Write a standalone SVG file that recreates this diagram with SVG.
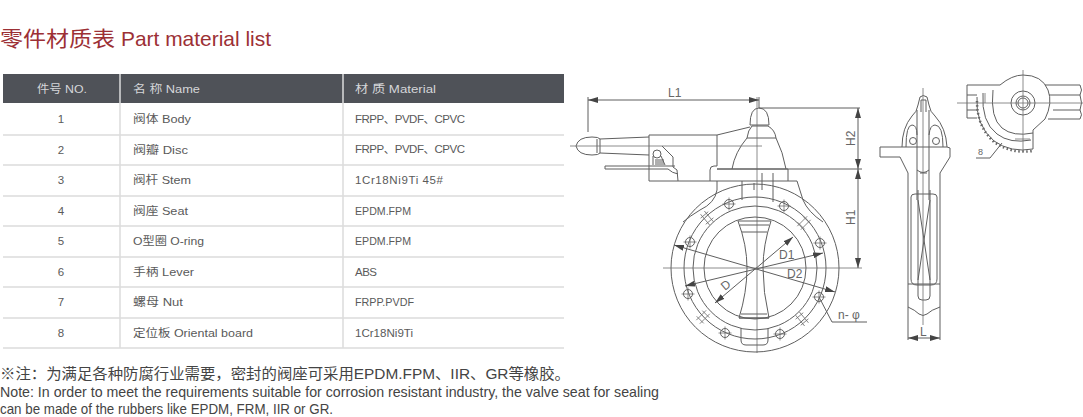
<svg xmlns="http://www.w3.org/2000/svg" width="1083" height="417" viewBox="0 0 1083 417">
<style>
text{font-family:"Liberation Sans","Noto Sans CJK SC",sans-serif;fill:#5a5a5a}
.title{font-size:21px;fill:#9c3035}
.hd{font-size:11.500px;fill:#d5d6d8}
.td{font-size:11.500px}
.note{font-size:15px;fill:#444}
.rule{stroke:#dcdcdc;stroke-width:1.500;fill:none}
.l{fill:none;stroke:#5f5f5f;stroke-width:1}
.c{fill:none;stroke:#707070;stroke-width:.8}
.t{fill:none;stroke:#666;stroke-width:2.500;stroke-dasharray:1.500 2.500}
.dim{font-size:12px;fill:#666}
</style>
<defs>
<marker id="ah" viewBox="0 0 10 6" refX="10" refY="3" markerWidth="10" markerHeight="6" markerUnits="userSpaceOnUse" orient="auto-start-reverse"><path d="M0 0L10 3L0 6Z" fill="#444"/></marker>
<g id="bolt"><circle r="4.500" class="l"/><path d="M-6.500 0H6.500M0-6.500V6.500" class="c"/></g>
<g id="slot"><path d="M-7-2.500H7M-7 2.500H7M-4-5V5M4-5V5" class="c"/></g>
</defs>
<rect width="1083" height="417" fill="#fff"/>
<g id="title">
<text class="title" x="0" y="46" textLength="115" lengthAdjust="spacingAndGlyphs">零件材质表</text>
<text class="title" x="121" y="46" textLength="150" lengthAdjust="spacingAndGlyphs">Part material list</text>
</g>
<g id="table">
<rect x="3" y="74" width="561" height="29" fill="#4f5258"/>
<path class="rule" d="M120 74V348M343 74V348M3 135H564M3 165H564M3 196H564M3 226H564M3 257H564M3 287H564M3 318H564M3 348H564"/>
<text class="hd" x="37" y="93" textLength="50" lengthAdjust="spacingAndGlyphs">件号 NO.</text>
<text class="hd" x="133" y="93" textLength="67" lengthAdjust="spacingAndGlyphs">名 称 Name</text>
<text class="hd" x="355" y="93" textLength="81" lengthAdjust="spacingAndGlyphs">材 质 Material</text>
<g text-anchor="middle">
<text class="td" x="61" y="123">1</text><text class="td" x="61" y="154">2</text><text class="td" x="61" y="184">3</text><text class="td" x="61" y="215">4</text><text class="td" x="61" y="245">5</text><text class="td" x="61" y="276">6</text><text class="td" x="61" y="306">7</text><text class="td" x="61" y="337">8</text>
</g>
<text class="td" x="133" y="123" textLength="58" lengthAdjust="spacingAndGlyphs">阀体 Body</text>
<text class="td" x="133" y="154" textLength="55" lengthAdjust="spacingAndGlyphs">阀瓣 Disc</text>
<text class="td" x="133" y="184" textLength="58" lengthAdjust="spacingAndGlyphs">阀杆 Stem</text>
<text class="td" x="133" y="215" textLength="55" lengthAdjust="spacingAndGlyphs">阀座 Seat</text>
<text class="td" x="133" y="245" textLength="71" lengthAdjust="spacingAndGlyphs">O型圈 O-ring</text>
<text class="td" x="133" y="276" textLength="61" lengthAdjust="spacingAndGlyphs">手柄 Lever</text>
<text class="td" x="133" y="306" textLength="50" lengthAdjust="spacingAndGlyphs">螺母 Nut</text>
<text class="td" x="133" y="337" textLength="120" lengthAdjust="spacingAndGlyphs">定位板 Oriental board</text>
<text class="td" x="355" y="123" textLength="110">FRPP、PVDF、CPVC</text>
<text class="td" x="355" y="153" textLength="110">FRPP、PVDF、CPVC</text>
<text class="td" x="355" y="184" textLength="88">1Cr18Ni9Ti 45#</text>
<text class="td" x="355" y="215" textLength="56" lengthAdjust="spacingAndGlyphs">EPDM.FPM</text>
<text class="td" x="355" y="245" textLength="56" lengthAdjust="spacingAndGlyphs">EPDM.FPM</text>
<text class="td" x="355" y="276" textLength="22">ABS</text>
<text class="td" x="355" y="306" textLength="59" lengthAdjust="spacingAndGlyphs">FRPP.PVDF</text>
<text class="td" x="355" y="337" textLength="58" lengthAdjust="spacingAndGlyphs">1Cr18Ni9Ti</text>
</g>
<g id="notes">
<text class="note" x="0" y="379" textLength="570" lengthAdjust="spacingAndGlyphs">※注：为满足各种防腐行业需要，密封的阀座可采用EPDM.FPM、IIR、GR等橡胶。</text>
<text class="note" x="0" y="397" textLength="659" lengthAdjust="spacingAndGlyphs">Note: In order to meet the requirements suitable for corrosion resistant industry, the valve seat for sealing</text>
<text class="note" x="0" y="414" textLength="333" lengthAdjust="spacingAndGlyphs">can be made of the rubbers like EPDM, FRM, IIR or GR.</text>
</g>
<g id="front-view">
<path class="l" d="M649 135H717L750 127M649 135V181H797L803 200Q808 212 823 222M717 135V166M600 139L649 137M600 153L649 155"/>
<path class="l" d="M576 146Q578 137 592 137Q599 137 600 139V153Q599 155 592 155Q578 155 576 146ZM597 139V153"/>
<path class="l" d="M662 146L673 157V167L677 170L678 181M605 166H675M605 169H668Q672 173 678 174M605 166V169"/>
<circle class="l" cx="657" cy="154" r="4"/><path class="l" d="M653 156V165M661 156L665 165M655 160H664M655 162H664M655 164H664"/>
<path class="l" d="M710 181V170Q710 166 714 166H717M717 169H788V181M732 169Q735 152 747 138H776Q783 152 786 169M747 138Q748 130 752 126H768Q775 130 776 138M750 125Q750 108 759 108Q769 108 769 125H750M717 181V190Q715 203 700 210Q690 216 683 222"/>
<path class="l" d="M742 181V200M773 173V202M754 183V190M762 173V190"/>
<path class="c" d="M570 146H762M757 97V353"/>
<circle class="l" cx="755" cy="268" r="84"/><circle class="l" cx="755" cy="268" r="71"/><circle class="l" cx="755" cy="268" r="62"/><circle class="l" cx="755" cy="268" r="51"/>
<use href="#bolt" x="690" y="242"/><use href="#bolt" x="820" y="243"/><use href="#bolt" x="688" y="294"/><use href="#bolt" x="819" y="297"/><use href="#bolt" x="729" y="204"/><use href="#bolt" x="784" y="206"/><use href="#bolt" x="725" y="333"/><use href="#bolt" x="780" y="334"/>
<use href="#slot" transform="translate(707 218) rotate(50)"/><use href="#slot" transform="translate(804 223) rotate(-45)"/><use href="#slot" transform="translate(703 317) rotate(-45)"/><use href="#slot" transform="translate(802 319) rotate(50)"/>
<path class="l" d="M738 221H771Q763 245 763 268Q763 292 769 318H739Q747 292 747 268Q747 245 738 221ZM740 225H769M742 232H767M741 314H767M739 318H769M741 328V340Q741 345 746 345H763Q768 345 768 340V328"/>
<path class="c" d="M663 268H862"/>
</g>
<g id="connectors">
<path class="l" d="M588 97V132M759 97V108M759 108H860M717 169H862M819 297L832 322H867"/>
<path class="l" d="M588 100H759" marker-start="url(#ah)" marker-end="url(#ah)"/>
<path class="l" d="M858 108V169" marker-start="url(#ah)" marker-end="url(#ah)"/>
<path class="l" d="M858 169V268" marker-start="url(#ah)" marker-end="url(#ah)"/>
<path class="l" d="M715 303L793 237" marker-start="url(#ah)" marker-end="url(#ah)"/>
<path class="l" d="M674 245L835 292" marker-start="url(#ah)" marker-end="url(#ah)"/>
<path class="l" d="M685 286L823 253" marker-start="url(#ah)" marker-end="url(#ah)"/>
<path class="l" d="M908 307V340M940 307V340M990 158H976M990 158L1002 143"/>
<path class="l" d="M908 338H940" marker-start="url(#ah)" marker-end="url(#ah)"/>
</g>
<g id="dimensions">
<text class="dim" x="668" y="97">L1</text>
<text class="dim" transform="translate(855 146) rotate(-90)">H2</text>
<text class="dim" transform="translate(855 225) rotate(-90)">H1</text>
<text class="dim" x="779" y="259">D1</text>
<text class="dim" x="787" y="278">D2</text>
<text class="dim" transform="translate(725 291) rotate(-40)">D</text>
<text class="dim" x="838" y="319">n- φ</text>
<text class="dim" x="920" y="336">L</text>
<text class="dim" x="978" y="155" style="font-size:9px">8</text>
</g>
<g id="side-view">
<path class="l" d="M920 97Q923 94 927 97L929 105Q930 112 935 116Q946 128 947 147M920 97L918 105Q917 112 912 116Q902 128 902 147M880 147H902M880 147V157H900L908 173V307Q915 310 919 314Q923 317 927 314Q931 310 940 307V173L950 157V148L947 147"/>
<path class="l" d="M902 147H947M917 110V200M929 110V200M921 100H926V112M921 100V112M911 197V279Q911 285 917 285H931Q937 285 937 279V197Q937 194 933 194H915Q911 194 911 197M918 190V296Q918 300 922 300H926Q930 300 930 296V190M908 284H940M918 200L930 280M930 200L918 280M906 147Q906 125 912 125Q917 125 917 135M943 147Q943 125 935 125Q930 125 929 135M917 170Q923 175 929 170M920 173H927"/>
<circle class="l" cx="913" cy="141" r="3.500"/><circle class="l" cx="936" cy="141" r="3.500"/>
<path class="c" d="M923 88V325"/>
</g>
<g id="top-view">
<path class="l" d="M1000 85Q1012 75 1023 75Q1042 75 1048 90Q1053 103 1045 119L1033 130V149M1000 85H967V118H977M967 95H977M967 110H977M1045 85H1080Q1083 90 1080 95H1049M1053 110H1080Q1083 115 1080 119H1048M1080 95Q1083 103 1080 110"/>
<path class="l" d="M993 90Q990 118 1002 128Q1013 137 1033 133M983 93Q981 122 997 134Q1010 144 1031 140"/>
<path class="l" d="M977 97Q975 125 994 141Q1011 153 1033 149"/>
<path class="t" d="M977 101Q977 127 994 142Q1011 154 1033 151"/>
<circle class="l" cx="1023" cy="103" r="12"/><circle class="l" cx="1023" cy="103" r="7"/><circle class="l" cx="1023" cy="103" r="5"/>
<path class="c" d="M957 103H1083M1023 70V152M985 93V103M1015 139H1030"/>
</g>
</svg>
